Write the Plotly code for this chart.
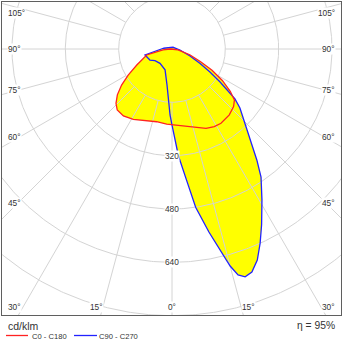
import numpy as np
import plotly.graph_objects as go

# ---------------- data (cd/klm), gamma in degrees: negative = left half, positive = right half
red_name = "C0 - C180"
red_gamma = [-90, -84, -76.7, -65.6, -59.2, -54.4, -50, -45.9, -41.9, -36, -28.8, -19.4, -11.9, -4, 0,
             4.7, 13.7, 18.5, 23.2, 28.6, 33.4, 41, 46.9, 50.7, 54, 58, 62, 66, 72, 81, 90]
red_cd = [5, 27, 78, 116, 153, 186, 214, 234, 246, 248, 241, 228, 223, 226, 227,
          229, 240, 249, 259, 265, 267, 262, 253, 242, 216, 178, 136, 94, 56, 18, 5]

blue_name = "C90 - C270"
blue_gamma = [-95, -83.3, -77.5, -63.4, -55.5, -40, -27, -18.4, -7.9, -3.9, -1.7, 0, 1.6, 3.4, 6.3, 8.5,
              11.4, 13.9, 15, 16.3, 17.8, 19.7, 22, 24.4, 27, 30.8, 34.8, 37.4, 40.6, 43.8, 49, 51.6,
              53.1, 55.5, 58.8, 62.6, 68.7, 82.9, 150]
blue_cd = [26, 51, 83, 74, 62, 56, 60, 66, 109, 153, 198, 228, 267, 320, 395, 480,
           560, 637, 674, 706, 718, 711, 683, 640, 592, 527, 468, 419, 360, 316, 270, 241,
           210, 175, 133, 95, 58, 24, 6]

ring_values = [160, 320, 480, 640, 800]
ring_label_values = [320, 480, 640]
spoke_angles = list(range(-180, 181, 15))
angle_label_text = ["105°", "90°", "75°", "60°", "45°", "30°", "15°", "0°"]
unit_text = "cd/klm"
eff_text = "η = 95%"

FONT = "Liberation Sans, Arial, sans-serif"
TXT = "#333333"
GRID = "#d4d4d4"


def to_xy(gamma, r):
    g = np.radians(np.asarray(gamma, dtype=float))
    r = np.asarray(r, dtype=float)
    return r * np.sin(g), -r * np.cos(g)


fig = go.Figure()

# fills
for gam, cd in [(red_gamma, red_cd), (blue_gamma, blue_cd)]:
    x, y = to_xy(gam, cd)
    fig.add_trace(go.Scatter(x=x, y=y, mode="lines", fill="toself", fillcolor="#ffff00",
                             line=dict(width=0), hoverinfo="skip", showlegend=False))

# grid circles
t = np.linspace(-180, 180, 721)
gx, gy = [], []
for rv in ring_values:
    cx, cy = to_xy(t, np.full_like(t, rv))
    gx += list(cx) + [None]
    gy += list(cy) + [None]
# spokes
for a in spoke_angles:
    sx, sy = to_xy([a, a], [ring_values[0], 1400])
    gx += list(sx) + [None]
    gy += list(sy) + [None]
fig.add_trace(go.Scatter(x=gx, y=gy, mode="lines", line=dict(color=GRID, width=1),
                         hoverinfo="skip", showlegend=False))

# outlines
for gam, cd, col, nm in [(blue_gamma, blue_cd, "#2222ff", blue_name), (red_gamma, red_cd, "#ff2222", red_name)]:
    x, y = to_xy(list(gam) + [gam[0]], list(cd) + [cd[0]])
    fig.add_trace(go.Scatter(x=x, y=y, mode="lines", line=dict(color=col, width=1.3),
                             name=nm, hoverinfo="skip", showlegend=False))

ann = []
# ring labels on the 0° spoke
for rv in ring_label_values:
    ann.append(dict(x=0, y=-rv, xref="x", yref="y", text=str(rv), showarrow=False,
                    font=dict(size=8.3, color=TXT, family=FONT), bgcolor="white", borderpad=0))

# angle labels
left_y = [108, 0, -123, -265, -462, -775]
for txt, yy in zip(angle_label_text[:6], left_y):
    ann.append(dict(x=-495, y=yy, xref="x", yref="y", text=txt, showarrow=False, xanchor="left",
                    font=dict(size=8.3, color=TXT, family=FONT), bgcolor="white", borderpad=0))
    ann.append(dict(x=492, y=yy, xref="x", yref="y", text=txt, showarrow=False, xanchor="right",
                    font=dict(size=8.3, color=TXT, family=FONT), bgcolor="white", borderpad=0))
for xx in (-228, 228):
    ann.append(dict(x=xx, y=-775, xref="x", yref="y", text=angle_label_text[6], showarrow=False,
                    font=dict(size=8.3, color=TXT, family=FONT), bgcolor="white", borderpad=0))
ann.append(dict(x=0, y=-775, xref="x", yref="y", text=angle_label_text[7], showarrow=False,
                font=dict(size=8.3, color=TXT, family=FONT), bgcolor="white", borderpad=0))

# legend texts (paper coords: x=(px-2)/339, y=(315-py)/313)
ann.append(dict(x=(6 - 2) / 339, y=(315 - 326) / 313, xref="paper", yref="paper", text=unit_text,
                showarrow=False, xanchor="left", yanchor="middle",
                font=dict(size=10.5, color=TXT, family=FONT)))
ann.append(dict(x=(337 - 2) / 339, y=(315 - 326) / 313, xref="paper", yref="paper", text=eff_text,
                showarrow=False, xanchor="right", yanchor="middle",
                font=dict(size=10.3, color=TXT, family=FONT)))
ann.append(dict(x=(30 - 2) / 339, y=(315 - 336) / 313, xref="paper", yref="paper", text=red_name,
                showarrow=False, xanchor="left", yanchor="middle",
                font=dict(size=7.6, color=TXT, family=FONT)))
ann.append(dict(x=(97 - 2) / 339, y=(315 - 336) / 313, xref="paper", yref="paper", text=blue_name,
                showarrow=False, xanchor="left", yanchor="middle",
                font=dict(size=7.6, color=TXT, family=FONT)))

shapes = [
    dict(type="line", xref="paper", yref="paper", x0=(6 - 2) / 339, x1=(28 - 2) / 339,
         y0=(315 - 335.5) / 313, y1=(315 - 335.5) / 313, line=dict(color="#ff2222", width=1.3)),
    dict(type="line", xref="paper", yref="paper", x0=(74 - 2) / 339, x1=(97 - 2) / 339,
         y0=(315 - 335.5) / 313, y1=(315 - 335.5) / 313, line=dict(color="#2222ff", width=1.3)),
]

axis_common = dict(showgrid=False, zeroline=False, showticklabels=False, ticks="",
                   showline=True, mirror=True, linecolor="#5f5f5f", linewidth=1, fixedrange=True)
fig.update_layout(
    width=343, height=343,
    margin=dict(l=2, r=2, t=2, b=28, pad=0),
    paper_bgcolor="white", plot_bgcolor="white",
    xaxis=dict(range=[-510, 507], **axis_common),
    yaxis=dict(range=[-798, 141], **axis_common),
    annotations=ann, shapes=shapes, showlegend=False,
)

fig.write_html("out.html")
